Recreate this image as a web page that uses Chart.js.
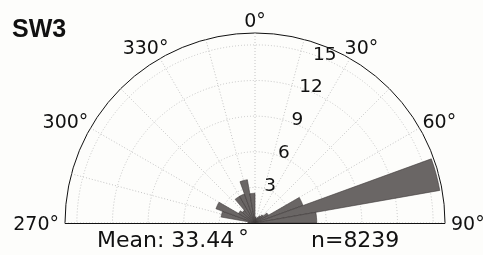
<!DOCTYPE html>
<html>
<head>
<meta charset="utf-8">
<script src="https://cdn.jsdelivr.net/npm/chart.js@4.4.1/dist/chart.umd.min.js"></script>
<style>
  html, body { margin: 0; padding: 0; background: #fdfdfb; overflow: hidden; }
  #wrap { position: relative; width: 483px; height: 446px; }
</style>
</head>
<body>
<div id="wrap"><canvas id="roseChart"></canvas></div>
<script>
// 10 degree bins, clockwise from north (0 deg at top)
const binStarts = [0, 10, 20, 30, 40, 50, 60, 70, 80, 90, 100, 110, 120, 130, 140, 150, 160, 170,
  180, 190, 200, 210, 220, 230, 240, 250, 260, 270, 280, 290, 300, 310, 320, 330, 340, 350];
const counts = [0.5, 0.4, 0.5, 0.7, 0.9, 1.3, 4.3, 15.8, 5.2,
  0, 0, 0, 0, 0, 0, 0, 0, 0, 0, 0, 0, 0, 0, 0, 0, 0, 0,
  0.6, 2.9, 3.5, 1.6, 1.4, 2.6, 2.6, 3.7, 2.5];

// angular grid every 15 deg, labels every 30 deg on the upper half
const gridAngles = [0, 15, 30, 45, 60, 75, 90, 105, 120, 135, 150, 165,
  180, 195, 210, 225, 240, 255, 270, 285, 300, 315, 330, 345];
const labelAngles = [270, 300, 330, 0, 30, 60, 90];
const labelTexts = ['270°', '300°', '330°', '0°', '30°', '60°', '90°'];

const radialTicks = [3, 6, 9, 12, 15];
const radialMax = 16;

const panelTitle = 'SW3';
const meanText = 'Mean: 33.44';
const countText = 'n=8239';

const rad = d => d * Math.PI / 180;

const roseDecor = {
  id: 'roseDecor',
  beforeDraw(chart) {
    const r = chart.scales.r;
    const ctx = chart.ctx;
    ctx.save();
    ctx.beginPath();
    ctx.rect(0, 0, chart.width, r.yCenter + 0.5);
    ctx.clip();
  },
  afterDraw(chart) {
    const r = chart.scales.r;
    const ctx = chart.ctx;
    ctx.restore();
    const cx = r.xCenter, cy = r.yCenter, R = r.drawingArea;

    ctx.save();
    // baseline of the half circle
    ctx.strokeStyle = '#111';
    ctx.lineWidth = 1;
    ctx.beginPath();
    ctx.moveTo(cx - R, cy + 0.5);
    ctx.lineTo(cx + R, cy + 0.5);
    ctx.stroke();

    ctx.fillStyle = '#111';
    ctx.textAlign = 'center';
    ctx.textBaseline = 'middle';

    // angle labels
    ctx.font = '19px "DejaVu Sans"';
    labelAngles.forEach((deg, i) => {
      const a = rad(deg);
      const txt = labelTexts[i];
      const w = ctx.measureText(txt).width;
      const h = 14;
      const d = R + 6;
      const x = cx + Math.sin(a) * d + Math.sin(a) * w / 2;
      const y = cy - Math.cos(a) * d - Math.cos(a) * h / 2 + 2;
      ctx.fillText(txt, x, y);
    });

    // radial tick labels
    ctx.font = '18.5px "DejaVu Sans"';
    radialTicks.forEach(v => {
      const d = r.getDistanceFromCenterForValue(v) + 4;
      const a = rad(22.5);
      ctx.fillText(String(v), cx + Math.sin(a) * d, cy - Math.cos(a) * d);
    });

    // annotations
    ctx.textAlign = 'left';
    ctx.textBaseline = 'alphabetic';
    ctx.font = '22px "DejaVu Sans"';
    ctx.fillText(meanText, 97, 247);
    const mw = ctx.measureText(meanText).width;
    ctx.font = '21px "DejaVu Sans"';
    ctx.fillText('°', 97 + mw + 4, 245);
    ctx.font = '22px "DejaVu Sans"';
    ctx.fillText(countText, 311, 247);

    ctx.font = 'bold 25px "Liberation Sans", Arial, sans-serif';
    ctx.fillText(panelTitle, 12, 37);
    ctx.restore();
  }
};

new Chart(document.getElementById('roseChart'), {
  type: 'polarArea',
  data: {
    labels: gridAngles.map(a => a + '°'),
    datasets: [{
      label: 'SW3',
      data: counts,
      backgroundColor: '#6a6665',
      borderColor: '#3f3b3b',
      borderWidth: c => (c.raw > 0 ? 0.6 : 0)
    }]
  },
  options: {
    responsive: true,
    maintainAspectRatio: false,
    animation: false,
    layout: { padding: { left: 65, right: 38, top: 33, bottom: 33 } },
    plugins: {
      legend: { display: false },
      tooltip: { enabled: false }
    },
    scales: {
      r: {
        min: 0,
        max: radialMax,
        startAngle: 0,
        z: 1,
        afterBuildTicks: scale => {
          scale.ticks = [0, ...radialTicks, radialMax].map(v => ({ value: v }));
        },
        ticks: { display: false },
        grid: {
          circular: true,
          color: c => (c.tick && c.tick.value === radialMax ? '#111' : '#c4c4c4'),
          lineWidth: 1
        },
        border: {
          dash: c => (c.tick && c.tick.value === radialMax ? [] : [1, 2])
        },
        angleLines: { display: true, color: '#c4c4c4', lineWidth: 1, borderDash: [1, 2] },
        pointLabels: { display: false }
      }
    }
  },
  plugins: [roseDecor]
});
</script>
</body>
</html>
